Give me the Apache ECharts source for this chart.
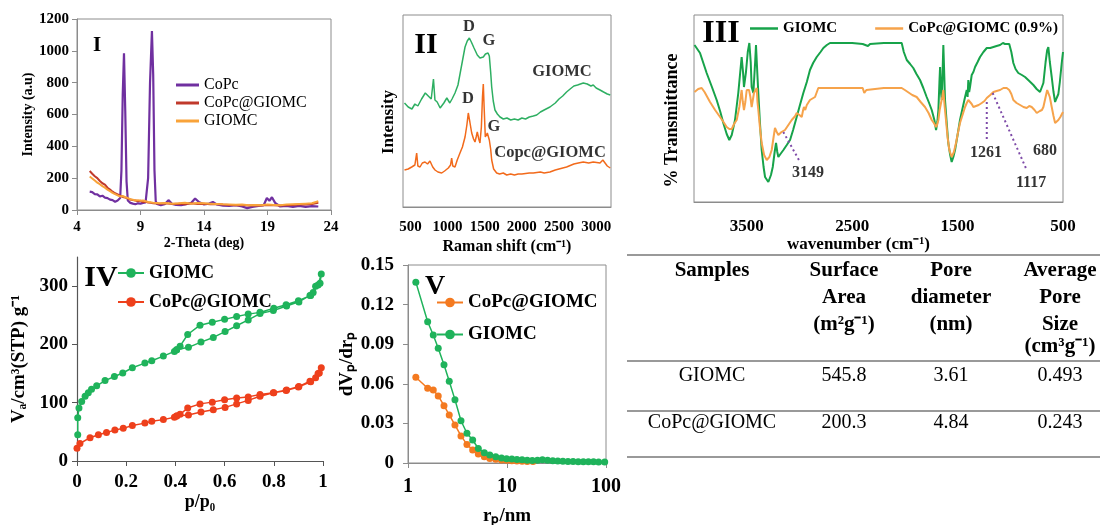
<!DOCTYPE html>
<html><head><meta charset="utf-8">
<script src="https://cdn.jsdelivr.net/npm/echarts@6/dist/echarts.min.js"></script>
<style>html,body{margin:0;padding:0;background:#fff}#c{width:1100px;height:525px}</style>
</head><body><div id="c"></div><script>
// ---------- Panel I : XRD ----------
const xrdThetaCoPc = [5,5.2,5.4,5.6,5.8,6,6.2,6.4,6.6,6.8,7,7.2,7.4,7.5,7.6,7.7,7.8,7.9,8.0,8.2,8.4,8.6,8.8,9.0,9.2,9.4,9.6,9.75,9.9,10.0,10.1,10.2,10.3,10.6,10.9,11.2,11.5,11.8,12.2,12.6,13.0,13.3,13.6,14.0,14.4,14.7,15.0,15.5,16.0,16.5,17.0,17.4,17.8,18.3,18.7,18.95,19.15,19.35,19.6,20.0,20.5,21.0,21.5,22.0,22.5,23.0];
const xrdCoPc = [115,112,100,98,85,90,78,75,65,62,52,60,75,250,720,985,620,180,60,45,40,36,42,40,45,48,200,800,1125,850,250,55,38,30,36,62,38,32,30,36,45,72,50,35,40,50,35,28,25,30,22,12,20,25,30,75,58,80,45,22,25,20,26,20,24,22];
const xrdTheta = [5,5.2,5.4,5.6,5.8,6,6.2,6.4,6.6,6.8,7,7.2,7.4,7.6,7.8,8,8.2,8.4,8.6,8.8,9,9.2,9.4,9.6,9.8,10,10.5,11,11.5,12,12.5,13,13.5,14,14.5,15,15.5,16,16.5,17,17.5,18,18.5,19,19.5,20,20.5,21,21.5,22,22.5,23];
const xrdCoPcGIOMC = [245,228,212,200,182,168,160,140,128,115,105,98,90,82,78,72,66,62,60,55,58,50,52,47,45,42,40,42,38,40,36,42,38,40,36,38,34,32,30,32,28,30,28,32,30,28,30,32,34,35,38,45];
const xrdGIOMC = [210,198,185,172,162,150,140,128,118,108,100,92,85,88,80,75,68,64,60,62,58,60,55,50,48,45,42,44,40,42,45,40,44,42,40,38,36,35,33,34,30,32,30,34,32,30,34,36,38,40,42,55];
const xrdXTicks = [4,9,14,19,24];

// ---------- Panel II : Raman ----------
const ramanShiftG = [420,470,520,560,600,650,700,740,780,800,810,830,860,900,950,990,1030,1060,1100,1140,1170,1200,1235,1265,1293,1320,1356,1400,1436,1481,1510,1526,1545,1562,1580,1594,1615,1638,1670,1706,1750,1800,1850,1900,1950,2000,2050,2100,2154,2200,2250,2300,2378,2450,2500,2550,2602,2650,2700,2750,2827,2880,2930,2961,3000,3052,3100,3150,3190];
const ramanGIOMC = [104,100,98,103,101,108,114,111,108,110,128,107,105,99,104,109,104,108,114,122,134,146,160,166,169,165,159,152,149,150,153,155,154,151,135,120,106,97,93,90,88,89,87,88,87,89,88,90,91,92,95,97,100,104,108,111,115,118,121,122,124,123,121,122,119,117,115,113,112];
const ramanShiftC = [420,470,517,560,584,600,629,660,696,730,763,800,831,870,921,960,1010,1040,1055,1070,1100,1130,1167,1200,1235,1260,1279,1300,1325,1350,1369,1385,1400,1420,1436,1455,1470,1481,1492,1508,1535,1550,1562,1580,1594,1620,1661,1700,1750,1796,1850,1900,1950,2000,2100,2154,2250,2300,2378,2450,2500,2602,2700,2760,2827,2900,2961,3052,3090,3120,3150,3190];
const ramanCoPcGIOMC = [37,38,40,42,54,41,40,44,45,43,46,40,37,35,34,36,39,42,49,41,40,47,54,60,70,82,94,85,74,68,65,70,75,68,64,80,110,123,100,70,74,72,67,58,47,38,34,33,34,32,33,32,33,33,34,34,35,34,35,37,38,40,43,44,45,44,45,44,47,44,41,39];
const ramanXTicks = [500,1000,1500,2000,2500,3000];
const ramanLabels = ['D','G','GIOMC','D','G','Copc@GIOMC'];
const ramanLabelX = [1288,1558,2540,1275,1625,2379];
const ramanLabelY = [180,166,135,108,80,54];

// ---------- Panel III : FTIR ----------
const ftirWaveG = [3995,3943,3880,3830,3785,3750,3722,3690,3665,3642,3611,3580,3548,3535,3526,3507,3490,3475,3462,3453,3437,3420,3412,3400,3390,3375,3358,3340,3326,3295,3270,3253,3235,3222,3210,3200,3180,3152,3120,3089,3060,3026,2995,2963,2930,2900,2870,2836,2800,2773,2740,2710,2600,2500,2400,2350,2330,2200,2100,2030,2010,1982,1950,1920,1890,1856,1825,1793,1770,1745,1720,1704,1692,1682,1672,1666,1658,1650,1642,1635,1627,1619,1600,1588,1570,1556,1540,1524,1500,1477,1450,1429,1413,1405,1398,1390,1382,1366,1350,1334,1310,1287,1255,1223,1190,1160,1130,1097,1070,1050,1034,1010,990,971,950,924,890,860,820,781,750,718,700,686,665,650,639,625,607,590,575,560,544,530,512,500];
const ftirGIOMC = [157,149,129,115,102,90,79,68,62,67,82,109,145,130,115,130,150,159,140,115,109,140,157,130,109,80,52,35,25,20,27,35,50,59,50,45,48,52,57,62,72,85,97,109,120,132,139,145,150,154,157,159,159,159,158,156,158,159,159,159,150,142,138,134,128,122,114,105,99,92,82,72,80,92,120,135,110,102,130,157,130,102,75,59,47,40,45,52,67,82,95,105,112,105,122,110,115,127,130,135,140,145,150,154,154,155,156,157,159,158,160,158,150,139,133,129,127,125,121,117,113,110,112,119,140,152,155,140,125,110,100,104,108,120,139,150];
const ftirWaveC = [3995,3960,3927,3900,3848,3800,3753,3720,3690,3665,3642,3620,3595,3570,3548,3537,3526,3513,3500,3478,3465,3453,3431,3405,3398,3390,3375,3358,3335,3310,3285,3263,3245,3232,3215,3200,3170,3137,3105,3073,3040,3026,3000,2978,2965,2957,2945,2930,2900,2852,2821,2700,2500,2400,2385,2378,2365,2350,2200,2030,2000,1982,1930,1888,1850,1809,1775,1745,1725,1704,1692,1682,1670,1657,1645,1635,1622,1610,1595,1578,1556,1535,1515,1495,1477,1450,1429,1413,1398,1382,1366,1350,1334,1300,1271,1245,1223,1190,1160,1130,1097,1065,1034,1010,990,971,940,907,875,844,820,797,770,749,720,700,686,665,650,639,625,607,590,575,560,544,525,512,500];
const ftirCoPcGIOMC = [110,113,114,110,100,92,85,80,75,73,73,78,82,95,112,100,92,100,112,112,105,95,109,114,100,92,75,59,47,42,45,52,65,74,70,67,70,72,77,82,86,89,87,85,92,95,92,97,102,105,114,114,114,114,109,107,112,113,114,114,112,110,107,105,100,95,89,82,79,75,78,82,92,99,105,112,95,82,65,52,45,50,59,70,79,88,95,99,102,100,98,95,95,97,99,101,104,107,110,111,112,114,114,112,108,102,99,97,95,94,96,95,92,89,91,92,95,105,112,114,105,95,86,79,80,82,85,87,90];
const ftirXTicks = [3500,2500,1500,500];
const ftirLabels = ['3149','1261','1117','680'];
const ftirLabelX = [2919,1230,803,670];
const ftirLabelY = [29,49,19,51];
const leaderX1 = [3153,1223,1167], leaderY1 = [70,100,109];
const leaderX2 = [2994,1223,844],  leaderY2 = [40,60,32];

// ---------- Panel IV : N2 isotherms ----------
const betPG = [0.003,0.003,0.008,0.019,0.033,0.046,0.059,0.08,0.114,0.152,0.186,0.225,0.276,0.304,0.351,0.396,0.405,0.453,0.504,0.554,0.602,0.649,0.696,0.744,0.798,0.852,0.902,0.947,0.96,0.97,0.988,0.993,0.98,0.95,0.9,0.85,0.8,0.744,0.696,0.649,0.6,0.55,0.5,0.45,0.419,0.405];
const betVG = [45,74,91,102,111,117,123,129,138,145,151,160,168,172,180,188,191,195,204,212,222,232,242,253,258,266,273,284,289,300,305,321,302,284,275,268,262,255,252,248,243,238,233,217,197,191];
const betPC = [0,0.012,0.053,0.087,0.12,0.154,0.188,0.225,0.276,0.304,0.351,0.396,0.405,0.453,0.504,0.554,0.602,0.649,0.696,0.744,0.798,0.852,0.902,0.947,0.97,0.985,0.993,0.98,0.95,0.9,0.85,0.8,0.744,0.696,0.649,0.6,0.55,0.5,0.45,0.419,0.405];
const betVC = [22,30,40,45,49,53,56,61,65,68,71,75,77,79,84,88,92,98,104,111,117,122,128,137,143,151,160,150,136,127,121,117,114,110,108,105,101,98,91,80,77];

// ---------- Panel V : pore size distribution ----------
const bjhRG = [1.2,1.58,1.8,2.02,2.31,2.61,2.98,3.43,3.94,4.5,5.13,5.9,6.7,7.7,8.8,9.9,11.2,12.6,14.2,16,18,20.3,22.8,25.7,29,32.6,36.7,41.3,46.5,52.4,59,66.4,74.8,84.2,97];
const bjhDG = [0.137,0.107,0.097,0.087,0.0745,0.062,0.048,0.032,0.0225,0.0174,0.011,0.0078,0.0061,0.0048,0.0037,0.0032,0.003,0.0027,0.0024,0.002,0.0018,0.002,0.0025,0.002,0.0017,0.0015,0.0014,0.0012,0.0012,0.001,0.001,0.0009,0.0009,0.0008,0.0008];
const bjhRC = [1.2,1.58,1.8,2.02,2.31,2.61,2.98,3.43,3.94,4.5,5.13,5.9,6.7,7.7,8.8,9.9,11.2,12.6,14.2,16,18.3];
const bjhDC = [0.065,0.0566,0.0553,0.0508,0.0434,0.0364,0.0288,0.0205,0.0141,0.0098,0.0068,0.0048,0.0035,0.0028,0.0023,0.002,0.0017,0.0015,0.0013,0.0012,0.0011];

// ---------- Table ----------
const tableHeaders = [['Samples'],['Surface','Area','(m²g⁻¹)'],['Pore','diameter','(nm)'],['Average','Pore','Size','(cm³g⁻¹)']];
const tableSamples = ['GIOMC','CoPc@GIOMC'];
const surfaceArea = ['545.8','200.3'];
const poreDiameter = ['3.61','4.84'];
const poreSize = ['0.493','0.243'];

// =====================================================
const F = '"Liberation Serif","Times New Roman",serif';
const zip = (xs, ys) => xs.map((x, i) => [x, ys[i]]);
const txt = (size, bold, extra) => Object.assign({fontFamily: F, fontWeight: bold ? 'bold' : 'normal', fontSize: size, color: '#000'}, extra || {});
const BOX = '#8c8c8c';
const plain = v => String(v);
const stripName = n => n.replace(/^[IV]+-/, '');

function specLine(name, xi, xs, ys, color, width) {
  return {type: 'line', name, xAxisIndex: xi, yAxisIndex: xi, data: zip(xs, ys), symbol: 'none',
    lineStyle: {color, width}, itemStyle: {color}, silent: true, z: 3};
}
function dotLine(name, xi, xs, ys, color) {
  return {type: 'line', name, xAxisIndex: xi, yAxisIndex: xi, data: zip(xs, ys), symbol: 'circle', symbolSize: 7,
    showSymbol: true, lineStyle: {color, width: 1.5}, itemStyle: {color}, silent: true, z: 3};
}
function textMarks(xi, xs, ys, labels, size) {
  return {type: 'scatter', xAxisIndex: xi, yAxisIndex: xi, symbolSize: 0, silent: true, z: 5,
    data: xs.map((x, i) => ({value: [x, ys[i]], name: labels[i]})),
    label: {show: true, position: 'inside', formatter: p => p.name, ...txt(size, true)}};
}

const grids = [
  {left: 77, top: 19, width: 254, height: 191, show: true, borderColor: BOX, borderWidth: 1},
  {left: 403, top: 15, width: 208, height: 192, show: true, borderColor: BOX, borderWidth: 1},
  {left: 694, top: 15, width: 369, height: 187, show: true, borderColor: BOX, borderWidth: 1},
  {left: 77, top: 257, width: 246, height: 204, show: false},
  {left: 408, top: 265, width: 198, height: 198, show: true, borderColor: BOX, borderWidth: 1}
].map(g => Object.assign({outerBoundsMode: 'none', containLabel: false, backgroundColor: 'transparent'}, g));

const xAxes = [
  {gridIndex: 0, type: 'value', min: 4, max: 24,
   axisLine: {lineStyle: {color: BOX}}, axisTick: {length: 5, lineStyle: {color: BOX}, customValues: xrdXTicks},
   axisLabel: {customValues: xrdXTicks, margin: 10, formatter: plain, ...txt(15, true)}, splitLine: {show: false},
   name: '2-Theta (deg)', nameLocation: 'middle', nameGap: 23, nameTextStyle: txt(14, true)},
  {gridIndex: 1, type: 'value', min: 400, max: 3200,
   axisLine: {lineStyle: {color: BOX}}, axisTick: {show: false},
   axisLabel: {customValues: ramanXTicks, margin: 13, formatter: plain, ...txt(15, true)}, splitLine: {show: false},
   name: 'Raman shift (cm⁻¹)', nameLocation: 'middle', nameGap: 32, nameTextStyle: txt(16, true)},
  {gridIndex: 2, type: 'value', min: 500, max: 4000, inverse: true,
   axisLine: {lineStyle: {color: BOX}}, axisTick: {show: false},
   axisLabel: {customValues: ftirXTicks, margin: 16, formatter: plain, ...txt(17, true)}, splitLine: {show: false},
   name: 'wavenumber (cm⁻¹)', nameLocation: 'middle', nameGap: 31, nameTextStyle: txt(17, true, {padding: [0, 40, 0, 0]})},
  {gridIndex: 3, type: 'value', min: 0, max: 1, interval: 0.2,
   axisLine: {lineStyle: {color: '#555', width: 1.2}}, axisTick: {length: 5, lineStyle: {color: '#555'}},
   axisLabel: {margin: 12, formatter: v => (v === 0 || v === 1) ? String(v) : v.toFixed(1), ...txt(19, true)},
   splitLine: {show: false},
   name: 'p/p₀', nameLocation: 'middle', nameGap: 30, nameTextStyle: txt(18, true)},
  {gridIndex: 4, type: 'log', logBase: 10, min: 1, max: 100,
   axisLine: {lineStyle: {color: BOX}}, axisTick: {length: 5, lineStyle: {color: BOX}},
   axisLabel: {margin: 14, formatter: plain, ...txt(20, true)}, splitLine: {show: false}, minorTick: {show: false},
   name: 'rₚ/nm', nameLocation: 'middle', nameGap: 44, nameTextStyle: txt(19, true)}
];

const yAxes = [
  {gridIndex: 0, type: 'value', min: 0, max: 1200, interval: 200,
   axisLine: {show: true, lineStyle: {color: BOX}}, axisTick: {show: true, length: 5, lineStyle: {color: BOX}},
   axisLabel: {margin: 8, formatter: plain, ...txt(15, true)}, splitLine: {show: false},
   name: 'Intensity (a.u)', nameLocation: 'middle', nameGap: 42, nameTextStyle: txt(14, true)},
  {gridIndex: 1, type: 'value', min: 0, max: 192,
   axisLine: {show: false}, axisTick: {show: false}, axisLabel: {show: false}, splitLine: {show: false},
   name: 'Intensity', nameLocation: 'middle', nameGap: 6, nameTextStyle: txt(17, true, {padding: [0, 22, 0, 0]})},
  {gridIndex: 2, type: 'value', min: 0, max: 187,
   axisLine: {show: false}, axisTick: {show: false}, axisLabel: {show: false}, splitLine: {show: false},
   name: '% Transmittance', nameLocation: 'middle', nameGap: 13, nameTextStyle: txt(18, true, {padding: [0, 24, 0, 0]})},
  {gridIndex: 3, type: 'value', min: 0, max: 350,
   axisLine: {show: true, lineStyle: {color: '#555', width: 1.2}},
   axisTick: {show: true, length: 5, lineStyle: {color: '#555'}, customValues: [0, 100, 200, 300]},
   axisLabel: {margin: 9, customValues: [0, 100, 200, 300], formatter: plain, ...txt(19, true)}, splitLine: {show: false},
   name: 'Vₐ/cm³(STP) g⁻¹', nameLocation: 'middle', nameGap: 48, nameTextStyle: txt(19, true)},
  {gridIndex: 4, type: 'value', min: 0, max: 0.15, interval: 0.03,
   axisLine: {show: true, lineStyle: {color: BOX}}, axisTick: {show: true, length: 5, lineStyle: {color: BOX}},
   axisLabel: {margin: 14, formatter: v => v === 0 ? '0' : v.toFixed(2), ...txt(19, true)}, splitLine: {show: false},
   name: 'dVₚ/drₚ', nameLocation: 'middle', nameGap: 46, nameTextStyle: txt(19, true)}
];

const series = [
  specLine('I-CoPc', 0, xrdThetaCoPc, xrdCoPc, '#7030A0', 2.2),
  specLine('I-CoPc@GIOMC', 0, xrdTheta, xrdCoPcGIOMC, '#C0392B', 2),
  specLine('I-GIOMC', 0, xrdTheta, xrdGIOMC, '#F9A339', 2),
  specLine('II-GIOMC', 1, ramanShiftG, ramanGIOMC, '#2EAF62', 1.5),
  specLine('II-CoPc@GIOMC', 1, ramanShiftC, ramanCoPcGIOMC, '#F26A1B', 1.5),
  textMarks(1, ramanLabelX, ramanLabelY, ramanLabels, 16.5),
  specLine('III-GIOMC', 2, ftirWaveG, ftirGIOMC, '#17A34A', 2),
  specLine('III-CoPc@GIOMC (0.9%)', 2, ftirWaveC, ftirCoPcGIOMC, '#F6A34B', 2),
  textMarks(2, ftirLabelX, ftirLabelY, ftirLabels, 16),
  dotLine('IV-GIOMC', 3, betPG, betVG, '#1FB35B'),
  dotLine('IV-CoPc@GIOMC', 3, betPC, betVC, '#EE401C'),
  dotLine('V-CoPc@GIOMC', 4, bjhRC, bjhDC, '#F47A20'),
  dotLine('V-GIOMC', 4, bjhRG, bjhDG, '#1FB35B')
];
leaderX1.forEach((x, i) => {
  series.push({type: 'line', xAxisIndex: 2, yAxisIndex: 2, symbol: 'none', silent: true, z: 4,
    data: [[x, leaderY1[i]], [leaderX2[i], leaderY2[i]]],
    lineStyle: {color: '#7E4BA8', width: 2, type: [2, 3]}});
});

const legends = [
  {orient: 'vertical', left: 176, top: 77, itemWidth: 23, itemHeight: 3, itemGap: 2, icon: 'rect',
   data: ['I-CoPc', 'I-CoPc@GIOMC', 'I-GIOMC'], formatter: stripName, textStyle: txt(16, false)},
  {orient: 'horizontal', left: 750, top: 21, itemWidth: 28, itemHeight: 2.5, itemGap: 38, icon: 'rect',
   data: ['III-GIOMC', 'III-CoPc@GIOMC (0.9%)'], formatter: stripName, textStyle: txt(15, true)},
  {orient: 'vertical', left: 117, top: 264, itemWidth: 26, itemHeight: 12, itemGap: 11,
   data: ['IV-GIOMC', 'IV-CoPc@GIOMC'], formatter: stripName, textStyle: txt(18, true)},
  {orient: 'vertical', left: 436, top: 293, itemWidth: 26, itemHeight: 12, itemGap: 13,
   data: ['V-CoPc@GIOMC', 'V-GIOMC'], formatter: stripName, textStyle: txt(19, true)}
].map(l => Object.assign({selectedMode: false, padding: 0, inactiveColor: '#000'}, l));

// ---------- graphics: panel numerals and table ----------
const graphics = [];
const gtext = (x, y, text, size, bold, align) => graphics.push({type: 'text', x, y, silent: true,
  style: {text, fontFamily: F, fontSize: size, fontWeight: bold ? 'bold' : 'normal', fill: '#000',
          align: align || 'center', verticalAlign: 'middle'}});
gtext(97, 46, 'I', 21, true);
gtext(426, 45, 'II', 30, true);
gtext(721, 34, 'III', 32, true);
gtext(101, 278, 'IV', 30, true);
gtext(435, 287, 'V', 28, true);

const colX = [712, 844, 951, 1060];
const headRowY = [271, 298, 325, 347];
tableHeaders.forEach((lines, c) => lines.forEach((t, r) => gtext(colX[c], headRowY[r], t, 21, true)));
const bodyRowY = [376, 423];
tableSamples.forEach((s, r) => {
  gtext(colX[0], bodyRowY[r], s, 20, false);
  gtext(colX[1], bodyRowY[r], surfaceArea[r], 20, false);
  gtext(colX[2], bodyRowY[r], poreDiameter[r], 20, false);
  gtext(colX[3], bodyRowY[r], poreSize[r], 20, false);
});
[255, 361, 411, 457].forEach(y => graphics.push({type: 'line', silent: true,
  shape: {x1: 627, y1: y, x2: 1100, y2: y}, style: {stroke: '#777', lineWidth: 1.5}}));

const chart = echarts.init(document.getElementById('c'), null, {renderer: 'canvas'});
chart.setOption({
  backgroundColor: '#fff', animation: false,
  grid: grids, xAxis: xAxes, yAxis: yAxes, legend: legends, series, graphic: graphics
});
</script></body></html>
